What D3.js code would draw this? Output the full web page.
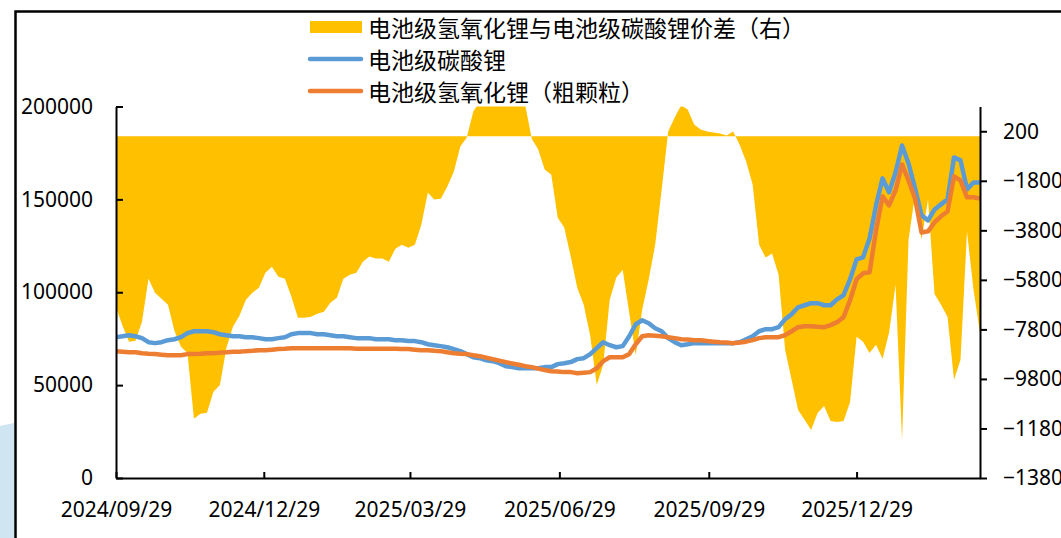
<!DOCTYPE html>
<html>
<head>
<meta charset="utf-8">
<script src="https://cdn.jsdelivr.net/npm/d3@7"></script>
<style>
  body { margin: 0; background: #fff; }
  svg text { font-family: "Noto Sans", sans-serif; }
</style>
</head>
<body>
<div id="chart"></div>
<script>
// legend names
var seriesNames = ["电池级氢氧化锂与电池级碳酸锂价差（右）", "电池级碳酸锂", "电池级氢氧化锂（粗颗粒）"];

// x tick labels
var tickLabels = ["2024/09/29", "2024/12/29", "2025/03/29", "2025/06/29", "2025/09/29", "2025/12/29"];

// spread, right axis (every 4 days from 2024/09/29)
var spread = [
  -6900, -7650, -8300, -8260, -7490, -5750, -6320, -6560, -6800, -7860,
  -8500, -8750, -11410, -11210, -11170, -10320, -10040, -8540, -7690, -7250,
  -6600, -6320, -6120, -5510, -5270, -5670, -5750, -6480, -7330, -7330,
  -7290, -7170, -7090, -6720, -6520, -5750, -5590, -5510, -5070, -4860,
  -4940, -4940, -5070, -4540, -4380, -4500, -4380, -3570, -2280, -2560,
  -2520, -2030, -1430, -420, -50, 1000, 1400, 1300, 1500, 1400,
  1500, 1400, 1300, 1250, -100, -540, -1350, -1550, -3290, -3690,
  -4860, -6120, -6800, -8060, -10040, -9230, -6600, -5710, -5390, -7130,
  -8830, -7010, -5790, -4380, -2150, 190, 760, 1250, 1080, 470,
  270, 190, 150, 110, 30, 190, -340, -1020, -1950, -4380,
  -4900, -4740, -5590, -8620, -9830, -11050, -11450, -11860, -11180, -10890,
  -11500, -11540, -11500, -10730, -8100, -8300, -8750, -8420, -8990, -7940,
  -6000, -12260, -4180, -2360, -4180, -2560, -6370, -6800, -7290, -9830,
  -9030, -3850, -6200, -7940
];

// battery grade lithium carbonate
var carbonate = [
  75800, 76300, 76900, 76300, 75300, 73100, 72600, 73100, 74200, 74700,
  75800, 78000, 79000, 79000, 79000, 78500, 77400, 76900, 76300, 76300,
  75800, 75800, 75300, 74700, 74700, 75300, 75800, 77400, 78000, 78000,
  78000, 77400, 77400, 76900, 76300, 76300, 75800, 75300, 75300, 75300,
  74700, 74700, 74700, 74200, 74200, 73700, 73700, 73100, 72000, 71500,
  71000, 70400, 69400, 68300, 66700, 65000, 64500, 63400, 62900, 61800,
  60200, 59700, 59100, 59100, 59100, 59100, 59700, 59700, 61300, 61800,
  62400, 64000, 64500, 66700, 69900, 73100, 71500, 70400, 71000, 76300,
  82800, 84900, 83300, 80600, 79000, 75300, 73100, 71500, 72000, 72600,
  72600, 72600, 72600, 72600, 72600, 72600, 73100, 74700, 76300, 79000,
  80100, 80100, 81200, 85500, 88200, 91900, 93000, 94100, 94100, 93000,
  93000, 96200, 98400, 107000, 117700, 118800, 129000, 146800, 161300, 153800,
  164500, 179000, 169300, 155900, 141400, 138700, 144600, 147300, 150000, 172600,
  171000, 155400, 159100, 159100
];

// battery grade lithium hydroxide (coarse)
var hydroxide = [
  68300, 68000, 67700, 67700, 67200, 66900, 66700, 66400, 66100, 66100,
  66100, 66700, 66700, 66900, 67200, 67200, 67500, 67700, 68000, 68000,
  68300, 68500, 68800, 68800, 69100, 69400, 69600, 69900, 69900, 69900,
  69900, 69900, 69900, 69900, 69900, 69900, 69900, 69600, 69600, 69600,
  69600, 69600, 69600, 69600, 69400, 69400, 69100, 68800, 68800, 68500,
  68300, 67700, 67200, 66900, 66700, 66100, 65600, 64800, 64000, 63200,
  62400, 61600, 61000, 60200, 59700, 58900, 58100, 57500, 57300, 57000,
  57000, 56400, 56700, 57000, 59100, 62900, 65000, 65000, 65000, 66700,
  72000, 76300, 76900, 76600, 76300, 75800, 75300, 74700, 74500, 74200,
  74200, 73700, 73400, 73100, 72900, 72600, 72900, 73400, 74200, 75300,
  75800, 75800, 75800, 76900, 79000, 81200, 81700, 81700, 81400, 81200,
  82300, 83900, 86600, 95700, 107000, 110200, 110700, 133300, 151600, 146800,
  154800, 168800, 160200, 150500, 132200, 132800, 137600, 140900, 143500, 162400,
  160200, 151100, 151100, 150500
];

var startDate = new Date(2024, 8, 29);
var dates = spread.map(function(d, i) { return d3.timeDay.offset(startDate, 4 * i); });
var parseTick = d3.timeParse("%Y/%m/%d");

var svgWidth = 1061;
var svgHeight = 538;
var plot = { left: 116, right: 980, top: 106.5, bottom: 478 };

var svg = d3.select("#chart")
  .append("svg")
  .attr("width", svgWidth)
  .attr("height", svgHeight);

// page background strip and chart border
svg.append("path")
  .attr("d", "M0,426 L14,423 L14,538 L0,538 Z")
  .attr("fill", "#cfe5f2");
svg.append("path")
  .attr("d", "M15.5,538 L15.5,11.5 L1061,11.5")
  .attr("fill", "none")
  .attr("stroke", "#000")
  .attr("stroke-width", 2.5);

var x = d3.scaleTime()
  .domain([startDate, dates[dates.length - 1]])
  .range([plot.left, plot.right]);

var y = d3.scaleLinear()
  .domain([0, 200000])
  .range([plot.bottom, plot.top]);

var y2 = d3.scaleLinear()
  .domain([-13800, 1200])
  .range([plot.bottom, plot.top]);

svg.append("clipPath")
  .attr("id", "plotClip")
  .append("rect")
  .attr("x", plot.left)
  .attr("y", plot.top)
  .attr("width", plot.right - plot.left)
  .attr("height", plot.bottom - plot.top);

var plotGroup = svg.append("g").attr("clip-path", "url(#plotClip)");

var area = d3.area()
  .x(function(d, i) { return x(dates[i]); })
  .y0(y2(0))
  .y1(function(d) { return y2(d); });

plotGroup.append("path")
  .datum(spread)
  .attr("d", area)
  .attr("fill", "#ffc000");

var line = d3.line()
  .x(function(d, i) { return x(dates[i]); })
  .y(function(d) { return y(d); });

plotGroup.append("path")
  .datum(carbonate)
  .attr("d", line)
  .attr("fill", "none")
  .attr("stroke", "#5b9bd5")
  .attr("stroke-width", 4.5)
  .attr("stroke-linejoin", "round");

plotGroup.append("path")
  .datum(hydroxide)
  .attr("d", line)
  .attr("fill", "none")
  .attr("stroke", "#ed7d31")
  .attr("stroke-width", 4.5)
  .attr("stroke-linejoin", "round");

// axes
var leftAxis = d3.axisLeft(y)
  .tickValues([0, 50000, 100000, 150000, 200000])
  .tickFormat(d3.format("d"))
  .tickSizeInner(-7)
  .tickSizeOuter(0)
  .tickPadding(23);

var rightAxis = d3.axisRight(y2)
  .tickValues(d3.range(-13800, 201, 2000))
  .tickFormat(d3.format("d"))
  .tickSizeInner(7)
  .tickSizeOuter(0)
  .tickPadding(16);

var bottomAxis = d3.axisBottom(x)
  .tickValues(tickLabels.map(parseTick))
  .tickFormat(d3.timeFormat("%Y/%m/%d"))
  .tickSizeInner(-6)
  .tickSizeOuter(0)
  .tickPadding(24);

var gLeft = svg.append("g")
  .attr("transform", `translate(${plot.left}, 0)`)
  .call(leftAxis);

var gRight = svg.append("g")
  .attr("transform", `translate(${plot.right}, 0)`)
  .call(rightAxis);

var gBottom = svg.append("g")
  .attr("transform", `translate(0, ${plot.bottom})`)
  .call(bottomAxis);

[gLeft, gRight, gBottom].forEach(function(g) {
  g.select(".domain").attr("stroke", "#000").attr("stroke-width", 2);
  g.selectAll(".tick line").attr("stroke", "#000").attr("stroke-width", 2);
  g.selectAll(".tick text")
    .attr("fill", "#000")
    .style("font-family", "'Noto Sans', sans-serif")
    .style("font-size", "21px");
});

// legend
var legend = svg.append("g").attr("transform", "translate(308, 0)");
var rowY = [27, 59, 91];

legend.append("rect")
  .attr("x", 2)
  .attr("y", rowY[0] - 6)
  .attr("width", 52)
  .attr("height", 12)
  .attr("fill", "#ffc000");

legend.append("line")
  .attr("x1", 2).attr("x2", 53)
  .attr("y1", rowY[1]).attr("y2", rowY[1])
  .attr("stroke", "#5b9bd5")
  .attr("stroke-width", 4.5)
  .attr("stroke-linecap", "round");

legend.append("line")
  .attr("x1", 2).attr("x2", 53)
  .attr("y1", rowY[2]).attr("y2", rowY[2])
  .attr("stroke", "#ed7d31")
  .attr("stroke-width", 4.5)
  .attr("stroke-linecap", "round");

legend.selectAll("text.name")
  .data(seriesNames)
  .enter()
  .append("text")
  .attr("class", "name")
  .attr("x", 60)
  .attr("y", function(d, i) { return rowY[i]; })
  .attr("dominant-baseline", "central")
  .style("font-family", "'Noto Sans CJK SC', sans-serif")
  .style("font-size", "23px")
  .attr("fill", "#000")
  .text(function(d) { return d; });
</script>
</body>
</html>
